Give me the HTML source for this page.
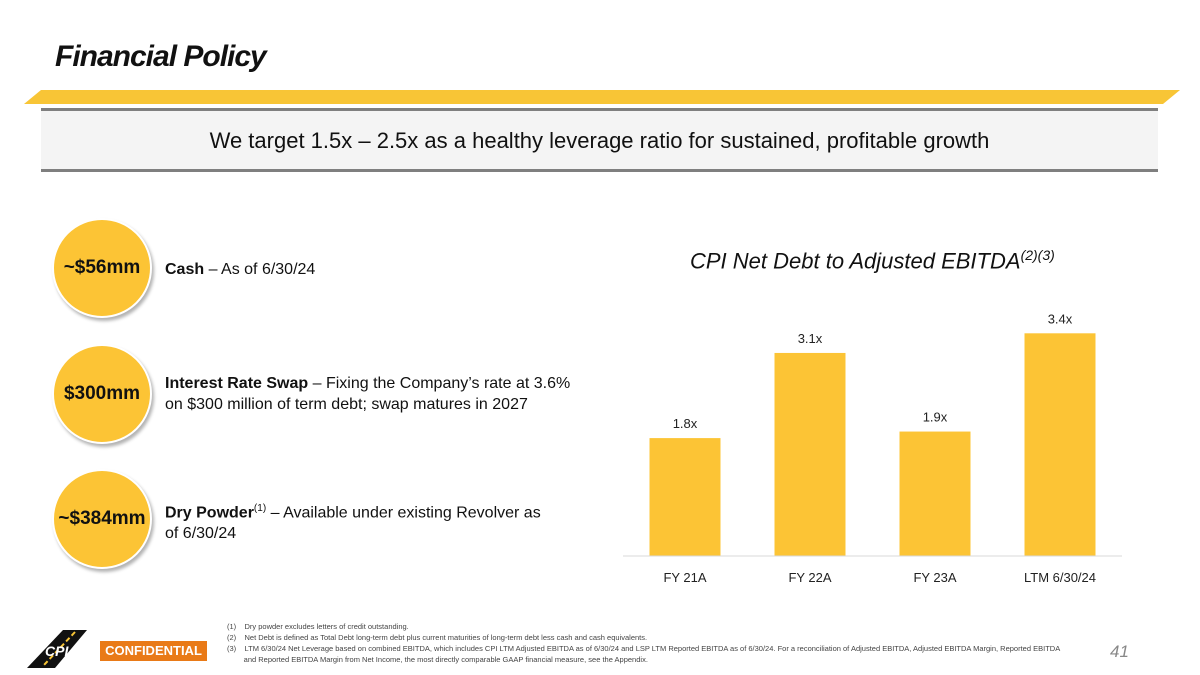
<!DOCTYPE html>
<html><head><meta charset="utf-8"><style>
body{margin:0;width:1200px;height:675px;position:relative;background:#fff;font-family:"Liberation Sans",sans-serif;overflow:hidden;color:#111}
.abs{position:absolute}
.circle{position:absolute;width:96px;height:96px;border-radius:50%;background:#fcc435;box-shadow:2px 3px 3px rgba(0,0,0,.3);border:2px solid #fff;display:flex;align-items:center;justify-content:center;font-weight:bold;font-size:19px;white-space:nowrap}
.desc{position:absolute;left:165px;font-size:16px;line-height:21px}
.fn{position:absolute;left:227px;font-size:7.5px;color:#444;line-height:11px}
</style></head><body>
<div class="abs" style="left:55px;top:40px;font-size:30px;font-weight:bold;font-style:italic;letter-spacing:-1px">Financial Policy</div>
<svg class="abs" style="left:0;top:88px" width="1200" height="20"><polygon points="24,16 41,2 1180,2 1163,16" fill="#f8c536"/></svg>
<div class="abs" style="left:41px;top:108px;width:1117px;height:64px;background:#f4f4f4;border-top:3px solid #7f7f7f;border-bottom:3px solid #7f7f7f;box-sizing:border-box;text-align:center;line-height:60px;font-size:22px">We target 1.5x – 2.5x as a healthy leverage ratio for sustained, profitable growth</div>

<div class="circle" style="left:52px;top:218px">~$56mm</div>
<div class="desc" style="top:259px"><b>Cash</b> – As of 6/30/24</div>
<div class="circle" style="left:52px;top:344px">$300mm</div>
<div class="desc" style="top:373px"><b>Interest Rate Swap</b> – Fixing the Company’s rate at 3.6%<br>on $300 million of term debt; swap matures in 2027</div>
<div class="circle" style="left:52px;top:469px">~$384mm</div>
<div class="desc" style="top:498px"><b>Dry Powder</b><sup style="font-size:10px">(1)</sup> – Available under existing Revolver as<br>of 6/30/24</div>

<div class="abs" style="left:690px;top:247px;font-size:22px;font-style:italic">CPI Net Debt to Adjusted EBITDA<sup style="font-size:14px">(2)(3)</sup></div>
<svg class="abs" id="chart" style="left:0;top:0" width="1200" height="675"></svg>

<div class="fn" style="top:621px">(1)&nbsp;&nbsp;&nbsp;&nbsp;Dry powder excludes letters of credit outstanding.<br>(2)&nbsp;&nbsp;&nbsp;&nbsp;Net Debt is defined as Total Debt long-term debt plus current maturities of long-term debt less cash and cash equivalents.<br>(3)&nbsp;&nbsp;&nbsp;&nbsp;LTM 6/30/24 Net Leverage based on combined EBITDA, which includes CPI LTM Adjusted EBITDA as of 6/30/24 and LSP LTM Reported EBITDA as of 6/30/24. For a reconciliation of Adjusted EBITDA, Adjusted EBITDA Margin, Reported EBITDA<br>&nbsp;&nbsp;&nbsp;&nbsp;&nbsp;&nbsp;&nbsp;&nbsp;and Reported EBITDA Margin from Net Income, the most directly comparable GAAP financial measure, see the Appendix.</div>
<svg class="abs" style="left:25px;top:630px" width="70" height="40"><polygon points="38,0 62,0 30,38 2,38" fill="#111"/><line x1="50" y1="2" x2="18" y2="36" stroke="#f8c536" stroke-width="2" stroke-dasharray="5,3"/><text x="20" y="26" font-size="14" font-weight="bold" font-style="italic" fill="#fff">CPI</text></svg>
<div class="abs" style="left:100px;top:641px;width:107px;height:20px;background:#e97a17;color:#fff;font-size:13px;line-height:20px;text-align:center;font-weight:bold">CONFIDENTIAL</div>
<div class="abs" style="left:1110px;top:642px;font-size:17px;font-style:italic;color:#888">41</div>

<script>
const categories=["FY 21A","FY 22A","FY 23A","LTM 6/30/24"];
const values=[1.8,3.1,1.9,3.4];
const labels=["1.8x","3.1x","1.9x","3.4x"];
const svg=document.getElementById('chart');
const NS='http://www.w3.org/2000/svg';
const base=556,k=65.5,x0=623,step=125,bw=71;
const y=v=>base-v*k;
const xc=i=>x0+62+i*step;
function mk(t,a){const e=document.createElementNS(NS,t);for(const n in a)e.setAttribute(n,a[n]);svg.appendChild(e);return e;}
values.forEach((v,i)=>{
  const r=mk('rect',{x:xc(i)-bw/2,y:y(v),width:bw,height:base-y(v),fill:'#fcc435'});
  
  
  const t=mk('text',{x:xc(i),y:y(v)-10,'text-anchor':'middle','font-size':13,fill:'#222'});
  t.textContent=labels[i];
  
  
  const c=mk('text',{x:xc(i),y:582,'text-anchor':'middle','font-size':13,fill:'#222'});
  c.textContent=categories[i];
  
  
});
const ax=mk('line',{x1:x0,x2:1122,y1:base,y2:base,stroke:'#d9d9d9','stroke-width':1});


</script>
</body></html>
